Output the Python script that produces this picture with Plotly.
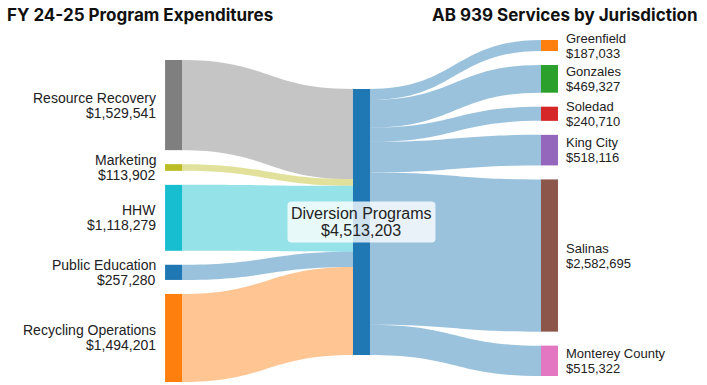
import plotly.graph_objects as go

# ---- data ----
source_labels = ["Resource Recovery", "Marketing", "HHW", "Public Education", "Recycling Operations"]
source_values = [1529541, 113902, 1118279, 257280, 1494201]
hub_label = "Diversion Programs"
target_labels = ["Greenfield", "Gonzales", "Soledad", "King City", "Salinas", "Monterey County"]
target_values = [187033, 469327, 240710, 518116, 2582695, 515322]

source_colors = ["#7f7f7f", "#bcbd22", "#17becf", "#1f77b4", "#ff7f0e"]
hub_color = "#1f77b4"
target_colors = ["#ff7f0e", "#2ca02c", "#d62728", "#9467bd", "#8c564b", "#e377c2"]

# ---- layout constants ----
W, H = 707, 385
M_T, M_B = 40, 9
PLOT_H = H - M_T - M_B
PAD = 14
THICK = 17
COL_X = [0.2455, 0.5113, 0.7772]
COL_TOP_PX = [20, 49, 0]  # offset of each column's top from plot top

total = sum(source_values)
n_max = max(len(source_values), 1, len(target_values))
ky = (PLOT_H - (n_max - 1) * PAD) / total


def centers(values, top_px):
    out = []
    y = top_px
    for v in values:
        h = v * ky
        out.append(y + h / 2)
        y += h + PAD
    return out


src_c = centers(source_values, COL_TOP_PX[0])
hub_c = centers([total], COL_TOP_PX[1])
tgt_c = centers(target_values, COL_TOP_PX[2])

labels = source_labels + [hub_label] + target_labels
node_colors = source_colors + [hub_color] + target_colors
node_x = [COL_X[0]] * len(source_values) + [COL_X[1]] + [COL_X[2]] * len(target_values)
node_y = [c / PLOT_H for c in src_c + hub_c + tgt_c]

hub_idx = len(source_values)


def rgba(hexc, a):
    hexc = hexc.lstrip("#")
    r, g, b = int(hexc[0:2], 16), int(hexc[2:4], 16), int(hexc[4:6], 16)
    return f"rgba({r},{g},{b},{a})"


link_src, link_tgt, link_val, link_col = [], [], [], []
for i, v in enumerate(source_values):
    link_src.append(i); link_tgt.append(hub_idx); link_val.append(v)
    link_col.append(rgba(source_colors[i], 0.45))
for j, v in enumerate(target_values):
    link_src.append(hub_idx); link_tgt.append(hub_idx + 1 + j); link_val.append(v)
    link_col.append(rgba(hub_color, 0.45))

fig = go.Figure(go.Sankey(
    arrangement="snap",
    node=dict(
        label=["" for _ in labels],
        color=node_colors,
        x=node_x,
        y=node_y,
        pad=PAD,
        thickness=THICK,
        line=dict(width=0, color="rgba(0,0,0,0)"),
    ),
    link=dict(source=link_src, target=link_tgt, value=link_val, color=link_col),
    hoverinfo="none",
))

LABEL_FONT = "Liberation Sans, Arial, sans-serif"
LINE_SHIFT = 7.5
ann = []
for name, v, c in zip(source_labels, source_values, src_c):
    y = 1 - c / PLOT_H
    for txt, sh in ((name, LINE_SHIFT), (f"${v:,}", -LINE_SHIFT)):
        ann.append(dict(x=158 / W, y=y, xref="paper", yref="paper", text=txt, showarrow=False,
                        xanchor="right", yanchor="middle", yshift=sh,
                        font=dict(family=LABEL_FONT, size=14, color="#222")))
for name, v, c in zip(target_labels, target_values, tgt_c):
    y = 1 - c / PLOT_H
    for txt, sh in ((name, LINE_SHIFT), (f"${v:,}", -LINE_SHIFT)):
        ann.append(dict(x=564 / W, y=y, xref="paper", yref="paper", text=txt, showarrow=False,
                        xanchor="left", yanchor="middle", yshift=sh,
                        font=dict(family=LABEL_FONT, size=13, color="#222")))

# hub label with a rounded translucent background box
hx = COL_X[1]
hy = 1 - hub_c[0] / PLOT_H
BOX_W, BOX_H, R = 148, 41, 4
x0, x1 = hx - BOX_W / 2 / W, hx + BOX_W / 2 / W
y0, y1 = hy - BOX_H / 2 / PLOT_H, hy + BOX_H / 2 / PLOT_H
rx, ry = R / W, R / PLOT_H
path = (f"M {x0+rx} {y0} L {x1-rx} {y0} Q {x1} {y0} {x1} {y0+ry} "
        f"L {x1} {y1-ry} Q {x1} {y1} {x1-rx} {y1} L {x0+rx} {y1} "
        f"Q {x0} {y1} {x0} {y1-ry} L {x0} {y0+ry} Q {x0} {y0} {x0+rx} {y0} Z")
shapes = [dict(type="path", path=path, xref="paper", yref="paper",
               fillcolor="rgba(255,255,255,0.78)", line=dict(width=0), layer="above")]
HUB_SHIFT = 8.9
for txt, sh in ((hub_label, HUB_SHIFT), (f"${total:,}", -HUB_SHIFT)):
    ann.append(dict(x=hx, y=hy, xref="paper", yref="paper", text=txt, showarrow=False,
                    xanchor="center", yanchor="middle", yshift=sh,
                    font=dict(family=LABEL_FONT, size=16, color="#222")))

TITLE_FONT = dict(family="Inter, Open Sans, sans-serif", size=17, color="#111", weight="bold")
ann.append(dict(x=5 / W, y=1 + (M_T - 15) / PLOT_H, xref="paper", yref="paper",
                text="FY 24-25 Program Expenditures", showarrow=False,
                xanchor="left", yanchor="middle", font=TITLE_FONT))
ann.append(dict(x=700 / W, y=1 + (M_T - 15) / PLOT_H, xref="paper", yref="paper",
                text="AB 939 Services by Jurisdiction", showarrow=False,
                xanchor="right", yanchor="middle", font=TITLE_FONT))

fig.update_layout(
    width=W, height=H,
    margin=dict(l=0, r=0, t=M_T, b=M_B),
    paper_bgcolor="white",
    annotations=ann,
    shapes=shapes,
)

fig.write_html("out.html", config={"displayModeBar": False},
               post_script="document.body.style.margin='0';")
